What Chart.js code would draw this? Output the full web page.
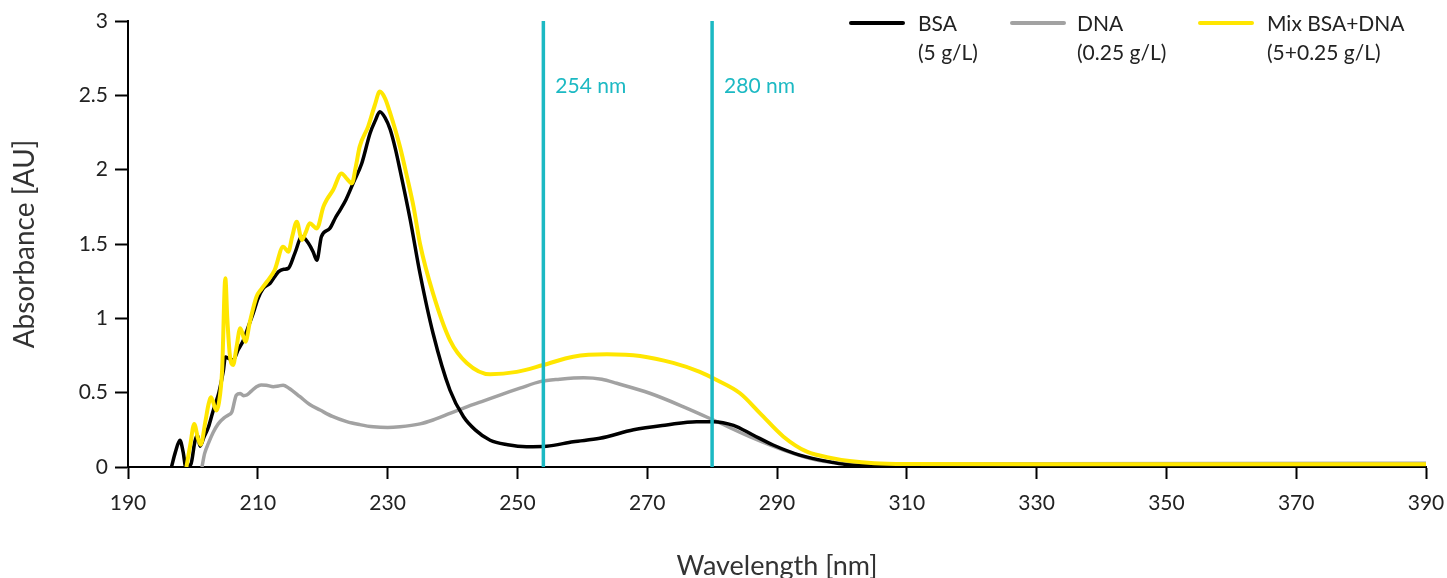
<!DOCTYPE html>
<html>
<head>
<meta charset="utf-8">
<script src="https://cdn.jsdelivr.net/npm/chart.js@4.4.1/dist/chart.umd.min.js"></script>
<style>
  html, body { margin: 0; padding: 0; background: #ffffff; }
  #wrap { width: 1447px; height: 578px; position: relative; }
</style>
</head>
<body>
<div id="wrap"><canvas id="c" width="1447" height="578"></canvas></div>
<script>
// ---------- data ----------
const seriesNames = ['BSA', 'DNA', 'Mix BSA+DNA'];
const seriesNotes = ['(5 g/L)', '(0.25 g/L)', '(5+0.25 g/L)'];
const markerNm = [254, 280];
const markerLabels = ['254 nm', '280 nm'];
const xTickValues = [190, 210, 230, 250, 270, 290, 310, 330, 350, 370, 390];
const yTickValues = [0, 0.5, 1, 1.5, 2, 2.5, 3];

const bsaNm = [196.7, 197.3, 198.0, 198.5, 198.9, 199.7, 200.3, 200.7, 201.1, 201.7, 202.4, 203.0, 203.4, 204.0, 204.7, 205.0, 205.5, 206.2, 207.0, 207.8, 208.5, 209.3, 210.0, 210.8, 211.9, 212.6, 213.2, 214.0, 214.7, 215.7, 216.8, 217.8, 218.5, 219.1, 219.8, 221.1, 222.0, 222.7, 223.6, 224.7, 226.0, 227.3, 228.1, 228.8, 229.6, 230.4, 231.2, 231.9, 233.5, 235.0, 237.0, 239.6, 241.7, 243.5, 245.8, 248.5, 251.4, 254.5, 258.6, 262.7, 267.9, 273.0, 277.6, 280.2, 283.3, 286.3, 289.4, 293.5, 298.7, 301.2, 305, 310, 320, 340, 360, 390];
const bsaAbs = [0, 0.1, 0.18, 0.1, 0, 0.02, 0.17, 0.215, 0.14, 0.2, 0.27, 0.36, 0.417, 0.5, 0.65, 0.74, 0.73, 0.72, 0.79, 0.854, 0.94, 1.034, 1.13, 1.2, 1.236, 1.28, 1.314, 1.33, 1.336, 1.437, 1.55, 1.505, 1.45, 1.39, 1.55, 1.605, 1.68, 1.73, 1.80, 1.91, 2.04, 2.245, 2.33, 2.39, 2.35, 2.27, 2.14, 2.0, 1.66, 1.30, 0.90, 0.518, 0.338, 0.25, 0.18, 0.15, 0.137, 0.14, 0.17, 0.193, 0.25, 0.283, 0.305, 0.305, 0.28, 0.215, 0.148, 0.08, 0.03, 0.013, 0.008, 0.006, 0.006, 0.006, 0.006, 0.006];

const dnaNm = [201.4, 201.8, 202.4, 203.1, 203.9, 204.8, 205.5, 206.0, 206.7, 207.3, 207.8, 208.3, 209.0, 209.8, 210.5, 211.3, 212.4, 213.2, 213.9, 214.8, 216.5, 218.0, 219.6, 221.5, 223.7, 225.7, 227.8, 230.0, 231.9, 235.0, 237.0, 239.6, 242.2, 244.5, 247.3, 250.4, 253.5, 256.5, 260.2, 263.0, 265.3, 270.4, 275.6, 280.2, 285.8, 291.0, 296.1, 301.2, 306, 312, 330, 360, 390];
const dnaAbs = [0, 0.09, 0.16, 0.23, 0.29, 0.33, 0.35, 0.37, 0.484, 0.495, 0.48, 0.484, 0.51, 0.54, 0.552, 0.55, 0.54, 0.545, 0.55, 0.53, 0.473, 0.42, 0.383, 0.34, 0.305, 0.285, 0.27, 0.265, 0.27, 0.29, 0.316, 0.36, 0.405, 0.44, 0.484, 0.53, 0.574, 0.59, 0.60, 0.59, 0.563, 0.496, 0.405, 0.316, 0.204, 0.114, 0.047, 0.022, 0.018, 0.02, 0.022, 0.024, 0.025];

const mixNm = [199.0, 199.6, 200.2, 200.8, 201.2, 201.9, 202.4, 202.8, 203.6, 204.0, 204.5, 205.0, 205.3, 205.7, 206.2, 206.7, 207.3, 208.1, 208.8, 209.8, 210.6, 211.4, 212.6, 213.9, 214.7, 215.3, 216.0, 216.8, 217.4, 218.0, 219.1, 220.1, 220.6, 221.6, 222.9, 223.7, 224.5, 225.1, 225.7, 227.0, 228.0, 228.8, 229.6, 230.4, 231.9, 233.0, 234.0, 235.0, 237.0, 239.6, 242.2, 245.8, 249.9, 254.0, 258.6, 263.8, 268.9, 274.0, 278.1, 280.7, 284.3, 287.4, 291.0, 294.6, 298.7, 301.2, 305, 310, 330, 360, 390];
const mixAbs = [0, 0.15, 0.29, 0.19, 0.15, 0.3, 0.42, 0.47, 0.38, 0.43, 0.65, 1.27, 1.0, 0.75, 0.686, 0.8, 0.933, 0.843, 0.98, 1.145, 1.2, 1.246, 1.325, 1.482, 1.448, 1.55, 1.65, 1.527, 1.58, 1.64, 1.605, 1.75, 1.796, 1.863, 1.975, 1.94, 1.908, 2.02, 2.155, 2.29, 2.43, 2.525, 2.48, 2.38, 2.155, 1.95, 1.75, 1.5, 1.168, 0.854, 0.70, 0.624, 0.64, 0.686, 0.742, 0.758, 0.747, 0.70, 0.64, 0.585, 0.496, 0.361, 0.204, 0.103, 0.058, 0.04, 0.025, 0.02, 0.018, 0.018, 0.018];

// ---------- styling ----------
const FONT = 'Lato, "Open Sans", sans-serif';
const TEXT = '#222222';
const TEAL = '#1cb9c3';
const colors = ['#000000', '#a2a2a2', '#ffe600'];

function pts(xs, ys) { return xs.map((x, i) => ({ x: x, y: ys[i] })); }

const seriesData = [pts(bsaNm, bsaAbs), pts(dnaNm, dnaAbs), pts(mixNm, mixAbs)];
const drawOrder = [2, 3, 1];

const datasets = seriesNames.map((n, i) => ({
  label: n,
  data: seriesData[i],
  borderColor: colors[i],
  backgroundColor: colors[i],
  borderWidth: i === 2 ? 4 : 3.5,
  pointRadius: 0,
  cubicInterpolationMode: 'monotone',
  order: drawOrder[i],
  fill: false
}));
markerNm.forEach((nm, i) => {
  datasets.push({
    label: markerLabels[i],
    data: [{ x: nm, y: 0 }, { x: nm, y: 3 }],
    borderColor: TEAL,
    borderWidth: 3.5,
    pointRadius: 0,
    order: 0,
    fill: false,
    clip: false
  });
});

const overlay = {
  id: 'overlay',
  afterDraw(chart) {
    const ctx = chart.ctx;
    const xs = chart.scales.x;
    ctx.save();
    ctx.font = '21px ' + FONT;
    ctx.fillStyle = TEAL;
    ctx.textBaseline = 'middle';
    ctx.textAlign = 'left';
    markerNm.forEach((nm, i) => {
      ctx.fillText(markerLabels[i], xs.getPixelForValue(nm) + 12, 86);
    });
    const lineX = [851, 1012, 1200];
    const textX = [918, 1077, 1267];
    ctx.lineWidth = 4;
    ctx.lineCap = 'round';
    seriesNames.forEach((n, i) => {
      ctx.strokeStyle = colors[i];
      ctx.beginPath();
      ctx.moveTo(lineX[i], 23);
      ctx.lineTo(lineX[i] + 52, 23);
      ctx.stroke();
      ctx.fillStyle = TEXT;
      ctx.fillText(n, textX[i], 24);
      ctx.fillText(seriesNotes[i], textX[i], 53);
    });
    ctx.restore();
  }
};

new Chart(document.getElementById('c'), {
  type: 'line',
  data: { datasets: datasets },
  options: {
    responsive: false,
    animation: false,
    devicePixelRatio: 1,
    layout: { padding: { top: 21, right: 21, left: 0, bottom: 0 } },
    plugins: { legend: { display: false }, tooltip: { enabled: false } },
    scales: {
      x: {
        type: 'linear',
        min: 190, max: 390,
        afterFit: s => { s.height = 111; s.paddingRight = 0; s.paddingLeft = 0; },
        afterBuildTicks: s => { s.ticks = xTickValues.map(v => ({ value: v })); },
        grid: { display: true, drawOnChartArea: false, drawTicks: true, tickLength: 12, tickWidth: 2, tickColor: '#000' },
        border: { display: true, color: '#000', width: 2 },
        ticks: { font: { family: FONT, size: 21 }, color: TEXT, padding: 12, maxRotation: 0, autoSkip: false },
        title: { display: true, text: 'Wavelength [nm]', font: { family: FONT, size: 27, lineHeight: 0.85 }, color: '#333', padding: 0 }
      },
      y: {
        type: 'linear',
        min: 0, max: 3,
        afterFit: s => { s.width = 128; s.paddingTop = 0; s.paddingBottom = 0; },
        afterBuildTicks: s => { s.ticks = yTickValues.map(v => ({ value: v })); },
        grid: { display: true, drawOnChartArea: false, drawTicks: true, tickLength: 13, tickWidth: 2, tickColor: '#000' },
        border: { display: true, color: '#000', width: 2 },
        ticks: { font: { family: FONT, size: 21 }, color: TEXT, padding: 7, callback: v => String(v) },
        title: { display: true, text: 'Absorbance [AU]', font: { family: FONT, size: 28, lineHeight: 1 }, color: '#333', padding: { top: 11, bottom: 0 } }
      }
    }
  },
  plugins: [overlay]
});
</script>
</body>
</html>
